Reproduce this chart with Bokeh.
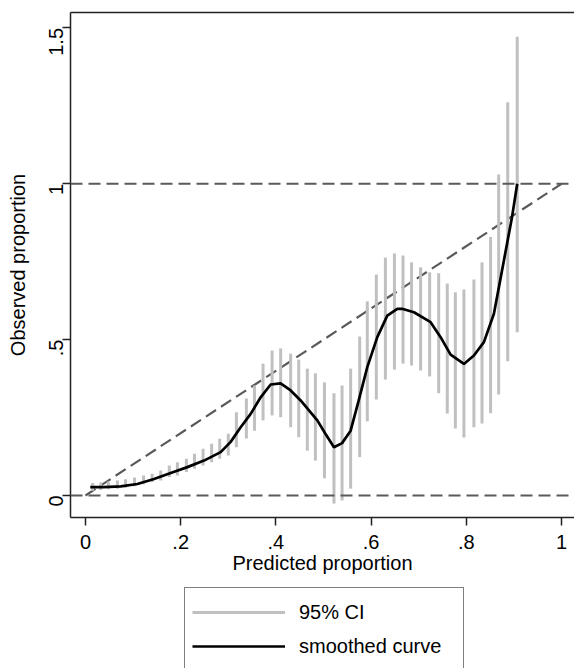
from bokeh.plotting import figure
from bokeh.models import (Range1d, Span, LinearAxis, Legend, LegendItem,
                          FixedTicker)
from bokeh.layouts import column
from bokeh.embed import file_html
from bokeh.resources import INLINE
import math

# ---- data ----
ci_x = [0.015, 0.032, 0.048, 0.067, 0.084, 0.103, 0.122, 0.140, 0.158, 0.176,
        0.193, 0.212, 0.229, 0.247, 0.265, 0.282, 0.300, 0.317, 0.338, 0.355,
        0.373, 0.392, 0.410, 0.431, 0.448, 0.466, 0.483, 0.502, 0.522, 0.539,
        0.557, 0.576, 0.592, 0.611, 0.630, 0.649, 0.667, 0.685, 0.704, 0.723,
        0.742, 0.760, 0.777, 0.795, 0.816, 0.833, 0.851, 0.868, 0.887, 0.907]
ci_lo = [0.015, 0.018, 0.020, 0.022, 0.025, 0.030, 0.036, 0.043, 0.048, 0.059,
         0.064, 0.075, 0.086, 0.096, 0.107, 0.118, 0.128, 0.155, 0.183, 0.208,
         0.241, 0.257, 0.251, 0.219, 0.187, 0.144, 0.112, 0.055, -0.026, -0.016,
         0.022, 0.123, 0.238, 0.308, 0.372, 0.404, 0.423, 0.417, 0.401, 0.382,
         0.328, 0.263, 0.215, 0.186, 0.219, 0.231, 0.264, 0.324, 0.431, 0.524]
ci_hi = [0.040, 0.042, 0.045, 0.048, 0.052, 0.058, 0.064, 0.070, 0.080, 0.096,
         0.107, 0.118, 0.134, 0.150, 0.166, 0.182, 0.198, 0.267, 0.311, 0.353,
         0.423, 0.465, 0.472, 0.455, 0.436, 0.407, 0.392, 0.363, 0.328, 0.353,
         0.407, 0.510, 0.623, 0.709, 0.763, 0.776, 0.770, 0.748, 0.732, 0.716,
         0.713, 0.680, 0.652, 0.661, 0.693, 0.748, 0.829, 1.030, 1.262, 1.472]

curve_x = [0.010, 0.038, 0.074, 0.109, 0.144, 0.179, 0.214, 0.249, 0.284, 0.305,
           0.326, 0.347, 0.368, 0.389, 0.410, 0.431, 0.452, 0.473, 0.487, 0.504,
           0.522, 0.539, 0.557, 0.574, 0.592, 0.613, 0.634, 0.655, 0.665, 0.690,
           0.725, 0.746, 0.767, 0.795, 0.816, 0.837, 0.858, 0.879, 0.896, 0.907]
curve_y = [0.027, 0.027, 0.029, 0.037, 0.053, 0.072, 0.091, 0.112, 0.139, 0.172,
           0.219, 0.262, 0.315, 0.356, 0.360, 0.337, 0.305, 0.267, 0.241, 0.198,
           0.155, 0.168, 0.208, 0.305, 0.412, 0.508, 0.577, 0.599, 0.599, 0.588,
           0.556, 0.508, 0.452, 0.422, 0.449, 0.492, 0.583, 0.754, 0.893, 1.000]

ref_x = [0.0, 1.0]
ref_y = [0.0, 1.0]
hlines = [0.0, 1.0]

x_ticks = [0, 0.2, 0.4, 0.6, 0.8, 1.0]
x_labels = ["0", ".2", ".4", ".6", ".8", "1"]
y_ticks = [0, 0.5, 1.0, 1.5]
y_labels = ["0", ".5", "1", "1.5"]
legend_labels = ["95% CI", "smoothed curve"]

FONT = "Liberation Sans"
FS = "20px"
CI_COLOR = "#c0c0c0"

p = figure(width=574, height=585, output_backend="svg", toolbar_location=None,
           x_range=Range1d(-0.0315, 1.0273), y_range=Range1d(-0.0706, 1.5496),
           min_border_left=70, min_border_right=0, min_border_top=12,
           min_border_bottom=68, x_axis_label="Predicted proportion",
           y_axis_label="Observed proportion")
p.outline_line_color = None
p.xgrid.visible = False
p.ygrid.visible = False
p.background_fill_color = "white"
p.border_fill_color = "white"

# reference lines
for h in hlines:
    p.add_layout(Span(location=h, dimension="width", line_color="#5a5a5a",
                      line_width=2, line_dash="12 6"))
p.line(ref_x, ref_y, line_color="#5a5a5a", line_width=2.2, line_dash="12 6")

p.segment(x0=ci_x, y0=ci_lo, x1=ci_x, y1=ci_hi, line_color=CI_COLOR, line_width=3)
p.line(curve_x, curve_y, line_color="black", line_width=2.7)

# axes styling
for ax, ticks, labels in ((p.xaxis[0], x_ticks, x_labels), (p.yaxis[0], y_ticks, y_labels)):
    ax.ticker = FixedTicker(ticks=ticks)
    ax.major_label_overrides = {t: l for t, l in zip(ticks, labels)}
    ax.minor_tick_line_color = None
    ax.major_tick_in = 0
    ax.major_tick_out = 8
    ax.major_tick_line_color = "#222222"
    ax.major_tick_line_width = 1.5
    ax.axis_line_color = "#222222"
    ax.axis_line_width = 1.5
    ax.major_label_text_font = FONT
    ax.major_label_text_font_size = FS
    ax.major_label_text_color = "black"
    ax.axis_label_text_font = FONT
    ax.axis_label_text_font_size = FS
    ax.axis_label_text_font_style = "normal"
    ax.axis_label_text_color = "black"

p.xaxis[0].major_label_standoff = 9
p.xaxis[0].axis_label_standoff = 0
p.yaxis[0].major_label_orientation = math.pi / 2
p.yaxis[0].major_label_standoff = 6
p.yaxis[0].axis_label_standoff = 11

top = LinearAxis(ticker=FixedTicker(ticks=[]), major_label_text_font_size="0px",
                 axis_line_color="#222222", axis_line_width=1.5,
                 major_tick_line_color=None, minor_tick_line_color=None)
p.add_layout(top, "above")

# legend strip below the plot; its key lines lie outside the strip's visible range
q = figure(width=574, height=83, output_backend="svg", toolbar_location=None,
           x_axis_type=None, y_axis_type=None, min_border=0,
           x_range=Range1d(0, 1), y_range=Range1d(0, 1))
q.outline_line_color = None
q.xgrid.visible = False
q.ygrid.visible = False
q.border_fill_color = "white"
r_ci = q.line([-2, -1], [-2, -1], line_color=CI_COLOR, line_width=3)
r_cv = q.line([-2, -1], [-2, -1], line_color="black", line_width=2.7)

legend = Legend(items=[LegendItem(label=legend_labels[0], renderers=[r_ci]),
                       LegendItem(label=legend_labels[1], renderers=[r_cv])],
                location=(114, -3), orientation="vertical",
                label_text_font=FONT, label_text_font_size=FS,
                label_text_color="black", glyph_width=93, glyph_height=34,
                label_height=34, label_width=157, label_standoff=14,
                padding=7, spacing=0, margin=0,
                border_line_color="black", border_line_width=1.5,
                background_fill_color="white", background_fill_alpha=1.0)
q.add_layout(legend, "center")

layout = column(p, q, spacing=0)
open("out.html", "w").write(file_html(layout, INLINE))
